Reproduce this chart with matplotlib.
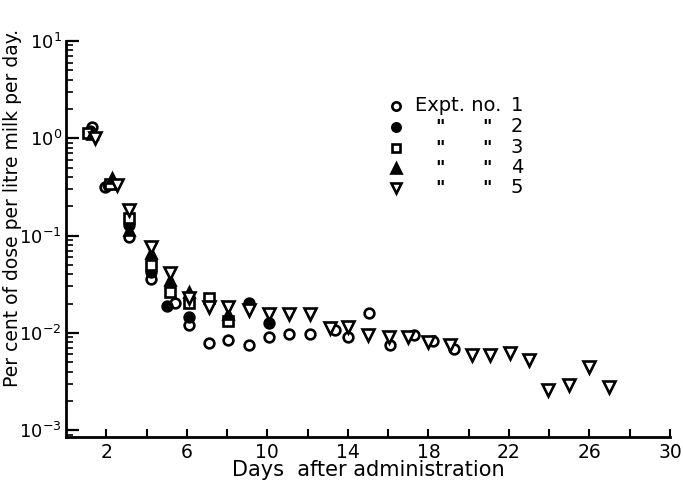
import numpy as np
import matplotlib
matplotlib.use("Agg")
import matplotlib.pyplot as plt
from matplotlib.ticker import FixedLocator, FuncFormatter, LogLocator, NullFormatter

# ------------------------------
# Data (day, per cent of dose per litre per day)
# ------------------------------
expt1_days = [1.3, 1.94, 3.14, 4.2, 5.43, 6.1, 7.1, 8.07, 9.07, 10.06, 11.1, 12.1,
              13.37, 14.03, 15.07, 16.07, 17.26, 18.25, 19.25]
expt1_vals = [1.31, 0.318, 0.097, 0.0355, 0.0204, 0.012, 0.0078, 0.0084, 0.0075, 0.009,
              0.0097, 0.0097, 0.0108, 0.009, 0.016, 0.0075, 0.0095, 0.0082, 0.0069]

expt2_days = [1.2, 2.1, 3.14, 4.2, 5.01, 6.1, 9.07, 10.06]
expt2_vals = [1.18, 0.33, 0.128, 0.0425, 0.0188, 0.0144, 0.0204, 0.0127]

expt3_days = [1.1, 2.2, 3.14, 4.2, 5.15, 6.1, 7.1, 8.07]
expt3_vals = [1.13, 0.34, 0.150, 0.0497, 0.0264, 0.0201, 0.0226, 0.0133]

expt4_days = [1.3, 2.26, 3.14, 4.2, 5.15, 6.1, 8.07]
expt4_vals = [1.1, 0.387, 0.114, 0.066, 0.0348, 0.0264, 0.0158]

expt5_days = [1.45, 2.55, 3.14, 4.2, 5.15, 6.1, 7.1, 8.07, 9.07, 10.06, 11.1, 12.13,
              13.09, 14.03, 15.02, 16.02, 17.0, 18.0, 19.08, 20.16, 21.07, 22.03,
              23.02, 23.96, 24.96, 26.0, 26.99]
expt5_vals = [1.0, 0.33, 0.183, 0.0757, 0.0414, 0.0226, 0.0185, 0.0185, 0.0171, 0.0158,
              0.0158, 0.0155, 0.0111, 0.0116, 0.0095, 0.009, 0.0091, 0.0081, 0.0075,
              0.0059, 0.0059, 0.0062, 0.0053, 0.00258, 0.0029, 0.0045, 0.0028]

series = [
    (expt1_days, expt1_vals, dict(marker="o", mfc="white", ms=7)),
    (expt2_days, expt2_vals, dict(marker="o", mfc="black", ms=7)),
    (expt3_days, expt3_vals, dict(marker="s", mfc="white", ms=6.5)),
    (expt4_days, expt4_vals, dict(marker="^", mfc="black", ms=7.5)),
    (expt5_days, expt5_vals, dict(marker="v", mfc="white", ms=8)),
]
legend_nums = ["1", "2", "3", "4", "5"]

# ------------------------------
# Figure
# ------------------------------
fig = plt.figure(figsize=(6.83, 4.92), dpi=100)
ax = fig.add_axes([66 / 683, 1 - 437 / 492, 604 / 683, 396 / 492])

for days, vals, style in series:
    ax.plot(days, vals, linestyle="none", mec="black", mew=1.9, clip_on=False, **style)

ax.set_yscale("log")
ax.set_xlim(0, 30)
ax.set_ylim(10 ** -3.07, 10)

ax.spines["top"].set_visible(False)
ax.spines["right"].set_visible(False)
ax.spines["left"].set_linewidth(2)
ax.spines["bottom"].set_linewidth(2)

# x ticks every 2 days, labels every 4
ax.xaxis.set_major_locator(FixedLocator(list(range(2, 31, 2))))
ax.xaxis.set_major_formatter(FuncFormatter(lambda v, p: f"{int(v)}" if int(v) % 4 == 2 else ""))
ax.tick_params(axis="x", direction="in", length=6, width=1.5, labelsize=13.5, pad=4)

ax.yaxis.set_major_locator(LogLocator(base=10, numticks=10))
ax.yaxis.set_minor_locator(LogLocator(base=10, subs=np.arange(2, 10), numticks=20))
ax.yaxis.set_minor_formatter(NullFormatter())
ax.tick_params(axis="y", which="major", direction="in", length=9, width=1.6, labelsize=13, pad=3)
ax.tick_params(axis="y", which="minor", direction="in", length=5, width=1.2)

ax.set_xlabel("Days  after administration", fontsize=15, labelpad=-1)
# y label sits higher than the axis centre in the original
fig.text(13 / 683, 1 - 208 / 492, "Per cent of dose per litre milk per day.",
         rotation=90, fontsize=13.5, ha="center", va="center")

# ------------------------------
# Legend drawn by hand (ditto marks)
# ------------------------------
row_y = [106, 127, 148, 168, 188]
for i, (days, vals, style) in enumerate(series):
    ya = (437 - row_y[i]) / 396
    ax.plot([(396 - 66) / 604], [ya], transform=ax.transAxes, linestyle="none",
            mec="black", mew=1.9, clip_on=False, **{**style, "ms": style["ms"] - 1})
    if i == 0:
        ax.text((415 - 66) / 604, ya, "Expt. no.", transform=ax.transAxes,
                fontsize=14, va="center", ha="left")
    else:
        ax.text((440 - 66) / 604, ya, "\"", transform=ax.transAxes,
                fontsize=13, va="center", ha="center", fontweight="bold")
        ax.text((487 - 66) / 604, ya, "\"", transform=ax.transAxes,
                fontsize=13, va="center", ha="center", fontweight="bold")
    ax.text((517 - 66) / 604, ya, legend_nums[i], transform=ax.transAxes,
            fontsize=14, va="center", ha="center")

fig.savefig("out.png", dpi=100)
